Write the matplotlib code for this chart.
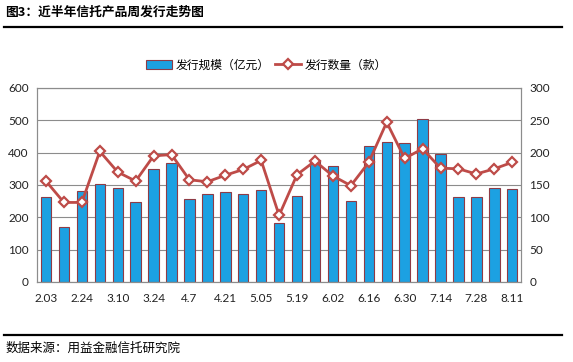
import numpy as np
import matplotlib
matplotlib.use('Agg')
import matplotlib.pyplot as plt
from matplotlib.lines import Line2D

plt.rcParams['font.family'] = ['Noto Sans CJK SC', 'DejaVu Sans']

# weekly categories, only every other one is labelled on the axis
weeks = ['2.03', '2.10', '2.24', '3.03', '3.10', '3.17', '3.24', '3.31', '4.7',
         '4.14', '4.21', '4.28', '5.05', '5.12', '5.19', '5.26', '6.02', '6.09',
         '6.16', '6.23', '6.30', '7.07', '7.14', '7.21', '7.28', '8.04', '8.11']

# issuance scale (100m yuan), left axis
scale = [263, 170, 282, 303, 291, 248, 349, 369, 257, 273, 277, 271, 285, 182,
         267, 378, 358, 251, 420, 434, 431, 505, 396, 262, 264, 292, 287]

# issuance count, right axis
count = [156, 123, 123, 202, 170, 156, 195, 197, 158, 155, 165, 174, 188, 103,
         166, 187, 164, 149, 185, 247, 191, 206, 176, 175, 167, 175, 185]

bar_color = '#1CA1E2'
bar_edge = '#8E3B46'
line_color = '#BE4B48'
grid_color = '#8C8C8C'
tick_font = 'Lato'

fig = plt.figure(figsize=(5.73, 3.62), dpi=100)
ax = fig.add_axes([0.0646, 0.221, 0.845, 0.536])
ax2 = ax.twinx()

x = np.arange(len(weeks))
ax.bar(x, scale, width=0.58, color=bar_color, edgecolor=bar_edge, linewidth=0.8, zorder=2)
ax2.plot(x, count, color=line_color, linewidth=2, marker='D', markersize=5,
         markerfacecolor='white', markeredgecolor=line_color, markeredgewidth=1.6, zorder=3)

ax.set_xlim(-0.5, len(weeks) - 0.5)
ax.set_ylim(0, 600)
ax2.set_ylim(0, 300)
ax.set_yticks(range(0, 601, 100))
ax2.set_yticks(range(0, 301, 50))
ax.set_xticks(x[::2])
ax.set_xticklabels(weeks[::2])

ax.yaxis.grid(True, color=grid_color, linewidth=0.8, zorder=0)
ax.set_axisbelow(True)
for a in (ax, ax2):
    for s in a.spines.values():
        s.set_color(grid_color)
        s.set_linewidth(0.8)
    a.tick_params(length=0, labelsize=8.5, colors='#222222', pad=6)
    for lab in a.get_xticklabels() + a.get_yticklabels():
        lab.set_family(tick_font)
ax.tick_params(axis='x', pad=8)

# legend
handles = [plt.Rectangle((0, 0), 1, 1, facecolor=bar_color, edgecolor=bar_edge, linewidth=0.8),
           Line2D([0], [0], color=line_color, linewidth=2, marker='D', markersize=5,
                  markerfacecolor='white', markeredgecolor=line_color, markeredgewidth=1.6)]
fig.legend(handles, ['发行规模（亿元）', '发行数量（款）'], loc='center',
           bbox_to_anchor=(0.465, 0.82), ncol=2, frameon=False, fontsize=8.5,
           handlelength=2.2, handleheight=0.8, columnspacing=0.4, handletextpad=0.3)

# title, rules and source note
fig.text(0.009, 0.967, '图3：近半年信托产品周发行走势图', fontsize=9.2, fontweight='bold',
         va='center', ha='left')
fig.add_artist(Line2D([0.007, 0.98], [0.926, 0.926], color='black', linewidth=1.6))
fig.add_artist(Line2D([0.007, 0.98], [0.075, 0.075], color='black', linewidth=1.6))
fig.text(0.009, 0.038, '数据来源：用益金融信托研究院', fontsize=9, va='center', ha='left')

fig.savefig('out.png', dpi=100)
